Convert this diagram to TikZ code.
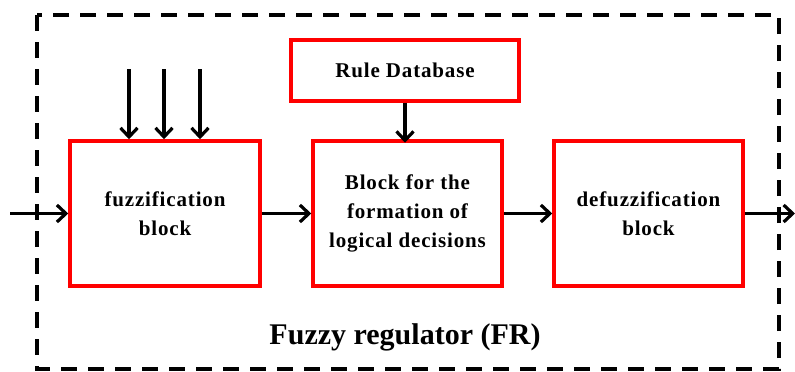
\documentclass[tikz,border=0pt]{standalone}
\usepackage{fontspec}
\setmainfont{Liberation Serif}
\newfontfamily\blockfont[LetterSpace=4]{Liberation Serif}
\usetikzlibrary{arrows.meta}
\begin{document}
\begin{tikzpicture}[x=1pt,y=-1pt,
  blk/.style={draw=red,line width=3.5pt,inner sep=0pt,align=center,
    font=\blockfont\fontsize{21}{29}\selectfont\bfseries},
  conn/.style={line width=3.2pt,-{Straight Barb[length=9pt,width=17pt,line width=3.2pt]}},
  frame/.style={line width=3.6pt,dash pattern=on 16pt off 11pt}]
\useasboundingbox (0,0) rectangle (795,372);
\draw[frame] (37,15) rectangle (779,369);
\node[blk,minimum width=190pt,minimum height=145pt] (fuz) at (165,213.5) {fuzzification\\block};
\node[blk,minimum width=189pt,minimum height=145pt] (dec) at (407.5,213.5) {Block for the\\formation of\\logical decisions};
\node[blk,minimum width=189pt,minimum height=145pt] (def) at (648.5,213.5) {defuzzification\\block};
\node[blk,minimum width=228pt,minimum height=61pt] (rule) at (405,70.5) {Rule Database};
\node[font=\fontsize{30}{34}\selectfont\bfseries] (title) at (405,337) {Fuzzy regulator (FR)};
\coordinate (in) at (10,213.5);
\coordinate (out) at (795,213.5);
\coordinate (i1) at (129,69);
\coordinate (i2) at (164,69);
\coordinate (i3) at (200,69);
\draw[conn] (in) -- (fuz.west);
\draw[conn] (fuz.east) -- (dec.west);
\draw[conn] (dec.east) -- (def.west);
\draw[conn] (def.east) -- (out);
\draw[conn] (rule.south -| dec.north) ++(-2.5,0) -- ++(0,40);
\draw[conn] (i1) -- (i1 |- fuz.north);
\draw[conn] (i2) -- (i2 |- fuz.north);
\draw[conn] (i3) -- (i3 |- fuz.north);
\end{tikzpicture}
\end{document}
